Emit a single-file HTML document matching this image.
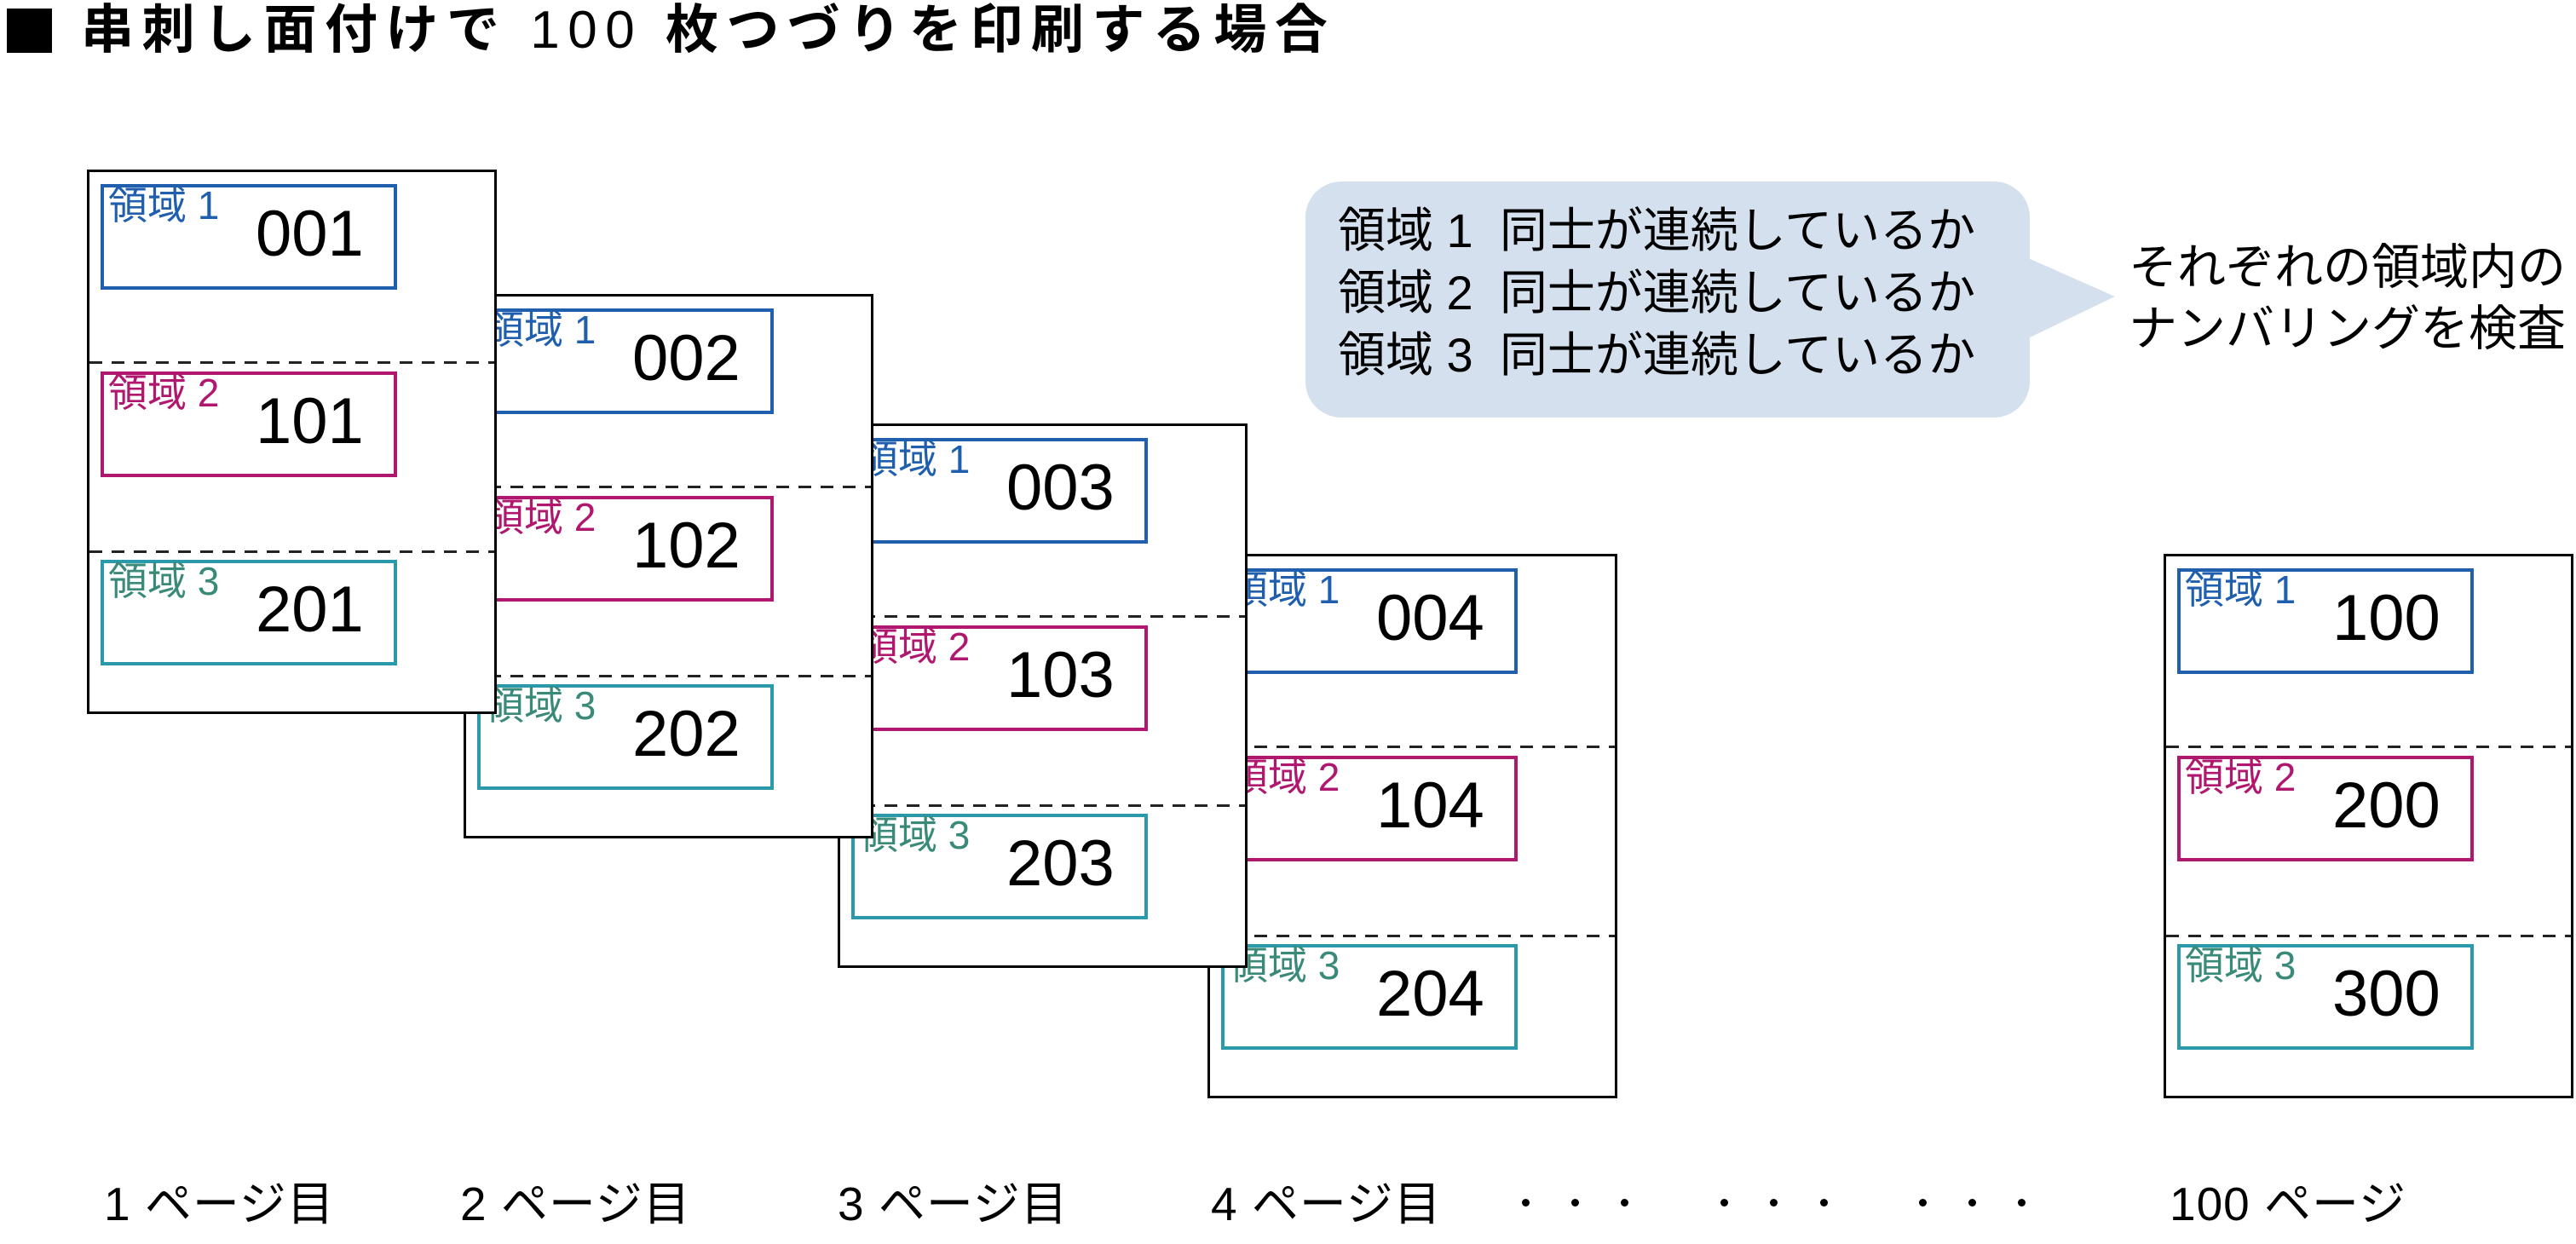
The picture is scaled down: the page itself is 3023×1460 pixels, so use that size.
<!DOCTYPE html>
<html><head><meta charset="utf-8"><style>
html,body{margin:0;padding:0}
body{width:3023px;height:1460px;position:relative;background:#fff;overflow:hidden;font-family:"Liberation Sans","Noto Sans CJK JP",sans-serif;color:#000}
.a{position:absolute;white-space:nowrap}
.pg{position:absolute;width:475px;height:633px;border:3.5px solid #000;background:#fff}
.dl{position:absolute;left:0;right:0;height:3px;background:repeating-linear-gradient(90deg,#222 0 15px,transparent 15px 26px)}
.bx{position:absolute;left:13px;width:340px;height:116px;border:4px solid}
.b1{border-color:#1f5fad}.b2{border-color:#b0176e}.b3{border-color:#2a9aaa}
.lb{position:absolute;left:5px;top:-2px;font-size:46px;line-height:1}
.c1{color:#1f5fad}.c2{color:#b0176e}.c3{color:#3a8a7a}
.nm{position:absolute;left:178px;top:17px;font-size:76px;line-height:1}
.bt{position:absolute;font-size:55px;line-height:1;top:1386px;letter-spacing:1px}
.dot{position:absolute;width:9px;height:9px;border-radius:50%;background:#000;top:1407px}
</style></head><body>
<div class="a" style="left:8px;top:10px;width:53px;height:52px;background:#000"></div>
<div class="a" style="left:95px;top:2px;font-size:62px;font-weight:bold;line-height:1.1;letter-spacing:9.5px">串刺し面付けで <span style="font-weight:normal">100</span> 枚つづりを印刷する場合</div>

<!-- page 100 -->
<div class="pg" style="left:2539px;top:650px">
<div class="dl" style="top:222px"></div><div class="dl" style="top:444px"></div>
<div class="bx b1" style="top:14px"><span class="lb c1">領域 1</span><span class="nm">100</span></div>
<div class="bx b2" style="top:234px"><span class="lb c2">領域 2</span><span class="nm">200</span></div>
<div class="bx b3" style="top:455px"><span class="lb c3">領域 3</span><span class="nm">300</span></div>
</div>
<!-- page 4 -->
<div class="pg" style="left:1417px;top:650px">
<div class="dl" style="top:222px"></div><div class="dl" style="top:444px"></div>
<div class="bx b1" style="top:14px"><span class="lb c1">領域 1</span><span class="nm">004</span></div>
<div class="bx b2" style="top:234px"><span class="lb c2">領域 2</span><span class="nm">104</span></div>
<div class="bx b3" style="top:455px"><span class="lb c3">領域 3</span><span class="nm">204</span></div>
</div>
<!-- page 3 -->
<div class="pg" style="left:983px;top:497px">
<div class="dl" style="top:222px"></div><div class="dl" style="top:444px"></div>
<div class="bx b1" style="top:14px"><span class="lb c1">領域 1</span><span class="nm">003</span></div>
<div class="bx b2" style="top:234px"><span class="lb c2">領域 2</span><span class="nm">103</span></div>
<div class="bx b3" style="top:455px"><span class="lb c3">領域 3</span><span class="nm">203</span></div>
</div>
<!-- page 2 -->
<div class="pg" style="left:544px;top:345px">
<div class="dl" style="top:222px"></div><div class="dl" style="top:444px"></div>
<div class="bx b1" style="top:14px"><span class="lb c1">領域 1</span><span class="nm">002</span></div>
<div class="bx b2" style="top:234px"><span class="lb c2">領域 2</span><span class="nm">102</span></div>
<div class="bx b3" style="top:455px"><span class="lb c3">領域 3</span><span class="nm">202</span></div>
</div>
<!-- page 1 -->
<div class="pg" style="left:102px;top:199px">
<div class="dl" style="top:222px"></div><div class="dl" style="top:444px"></div>
<div class="bx b1" style="top:14px"><span class="lb c1">領域 1</span><span class="nm">001</span></div>
<div class="bx b2" style="top:234px"><span class="lb c2">領域 2</span><span class="nm">101</span></div>
<div class="bx b3" style="top:455px"><span class="lb c3">領域 3</span><span class="nm">201</span></div>
</div>

<!-- callout -->
<div class="a" style="left:1532px;top:213px;width:850px;height:277px;background:#d4e0ee;border-radius:42px"></div>
<svg class="a" style="left:0;top:0" width="3023" height="1460"><polygon points="2378,302 2482,348 2378,398" fill="#d4e0ee"/></svg>
<div class="a" style="left:1570px;top:234px;font-size:56px;line-height:73px">領域 1&nbsp; 同士が連続しているか<br>領域 2&nbsp; 同士が連続しているか<br>領域 3&nbsp; 同士が連続しているか</div>
<div class="a" style="left:2498px;top:278px;font-size:57px;line-height:72px">それぞれの領域内の<br>ナンバリングを検査</div>

<div class="bt" style="left:122px">1 ページ目</div>
<div class="bt" style="left:540px">2 ページ目</div>
<div class="bt" style="left:983px">3 ページ目</div>
<div class="bt" style="left:1421px">4 ページ目</div>
<div class="bt" style="left:2546px">100 ページ</div>
<div class="dot" style="left:1786px"></div><div class="dot" style="left:1844px"></div><div class="dot" style="left:1902px"></div>
<div class="dot" style="left:2019px"></div><div class="dot" style="left:2077px"></div><div class="dot" style="left:2136px"></div>
<div class="dot" style="left:2252px"></div><div class="dot" style="left:2310px"></div><div class="dot" style="left:2368px"></div>
</body></html>
